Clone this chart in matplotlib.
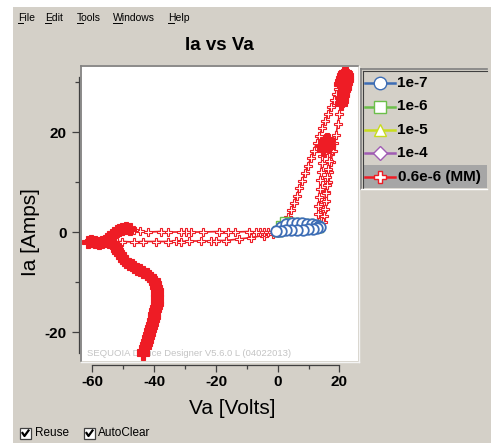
import numpy as np
import matplotlib
matplotlib.use('Agg')
import matplotlib.pyplot as plt
from matplotlib.lines import Line2D
from matplotlib.patches import Rectangle
from matplotlib.ticker import FixedLocator

plt.rcParams['font.family'] = ['Liberation Sans', 'DejaVu Sans']

# ---------------- data ----------------
series_names = ['1e-7', '1e-6', '1e-5', '1e-4', '0.6e-6 (MM)']
series_colors = ['#3d6db5', '#6cbf4a', '#c8dc1e', '#a05cb4', '#ee1c25']
series_markers = ['o', 's', '^', 'D', 'P']

v_1e7 = [0.0, 1.2, 2.8, 4.6, 6.3, 8.0, 9.6, 11.0, 12.3, 13.4, 13.8, 12.8, 11.4, 9.8, 8.1, 6.3, 4.4, 2.6, 0.9, -0.4]
i_1e7 = [0.2, 1.0, 1.7, 1.8, 1.8, 1.8, 1.7, 1.6, 1.5, 1.3, 1.0, 0.8, 0.7, 0.6, 0.5, 0.5, 0.4, 0.4, 0.3, 0.3]

v_1e6 = [0.0, 1.0, 2.2, 4.0, 6.0, 8.0, 10.0, 12.0, 13.2]
i_1e6 = [0.2, 1.3, 2.0, 1.9, 1.8, 1.7, 1.6, 1.4, 1.1]

v_1e5 = [0.0, 1.5, 3.5, 6.0, 8.5, 11.0, 13.0]
i_1e5 = [0.2, 0.9, 1.4, 1.5, 1.4, 1.3, 1.1]

v_1e4 = [0.0, 2.0, 4.5, 7.0, 9.5, 12.0]
i_1e4 = [0.2, 0.8, 1.2, 1.3, 1.2, 1.0]

v_mm = [
    # tail (bottom -> top)
    -43.8, -43.5, -43.1, -42.7, -42.3, -41.9, -41.6, -41.3, -41.0, -40.7, -40.5, -40.2, -40.0, -39.7,
    -39.4, -39.2, -39.0, -39.0, -39.0, -39.2, -39.4, -39.7, -40.2, -40.9, -41.7, -42.5, -43.5, -44.5,
    -45.5, -46.4, -47.3, -48.1, -49.0, -49.7, -50.4, -51.0, -51.6, -52.0, -52.5, -53.0, -53.5,
    # left cluster
    -54.5, -55.6, -56.8, -58.0, -59.2, -60.4, -61.6,
    # lower line to the right
    -60.0, -58.5, -54.5, -52.0, -50.3, -46.4, -43.7, -39.4, -35.6, -32.9, -31.3, -28.6, -24.8, -21.6,
    -20.0, -16.7, -12.5, -8.5, -4.5, -1.5, 0.3, 1.4, 2.5,
    # outer left line up
    3.4, 4.3, 5.2, 6.1, 7.0, 7.9, 8.8, 9.8, 10.7, 11.6, 12.6, 13.5, 14.4, 15.4, 16.3, 17.2, 18.1, 18.9,
    19.6, 20.2,
    # top blob
    20.6, 20.9, 21.2, 21.5, 21.8, 22.1, 22.3, 22.4, 22.3, 22.1, 21.9, 21.7, 21.5, 21.3, 21.1, 20.9, 20.8,
    # outer right line down
    20.5, 20.0, 19.4, 18.9, 18.3, 17.8, 17.3, 16.7, 16.2, 15.7, 15.1, 14.6, 14.0, 13.3,
    # inner left up
    13.0, 13.2, 13.4, 13.6, 13.8, 14.0, 14.2, 14.4, 14.6,
    # inner blob
    14.8, 15.0, 15.3, 15.6, 15.9, 16.2, 16.4, 16.6, 16.7,
    # inner right down
    16.6, 16.5, 16.3, 16.1, 15.9, 15.7, 15.5, 15.3, 15.1, 14.6, 13.5,
    # back along the bottom
    11.5, 9.0, 6.5, 4.0, 1.5,
    # upper line to the left
    -1.6, -3.0, -4.4, -5.8, -7.2, -9.2, -14.0, -16.2, -18.9, -24.3, -28.0, -29.7, -31.3, -35.6, -37.8,
    -42.1, -44.5, -46.5, -48.0, -49.2, -50.3, -51.3, -52.2, -53.0, -53.8, -54.6, -55.4,
]
i_mm = [
    -24.3, -23.7, -23.0, -22.3, -21.7, -21.0, -20.3, -19.6, -19.0, -18.3, -17.6, -16.9, -16.3, -15.6,
    -15.0, -14.3, -13.7, -13.0, -12.3, -11.6, -10.9, -10.2, -9.6, -9.1, -8.7, -8.3, -8.0, -7.6,
    -7.3, -7.0, -6.6, -6.3, -5.9, -5.6, -5.0, -4.4, -3.9, -3.5, -3.0, -2.6, -2.2,
    -2.0, -1.8, -2.0, -2.2, -2.0, -1.8, -2.0,
    -2.2, -1.9, -2.0, -2.0, -1.9, -2.0, -1.9, -1.9, -1.9, -1.8, -1.9, -1.8, -1.8, -1.8,
    -1.7, -1.7, -1.4, -1.1, -0.7, -0.3, 0.0, 0.7, 1.5,
    3.0, 4.4, 5.9, 7.3, 8.8, 10.3, 11.8, 13.3, 14.8, 16.3, 17.8, 19.3, 20.8, 22.2, 23.6, 25.0, 26.3, 27.5,
    28.6, 29.6,
    30.2, 30.8, 31.3, 31.7, 31.9, 31.7, 31.3, 30.8, 30.3, 29.8, 29.3, 28.8, 28.3, 27.8, 27.3, 26.7, 26.2,
    25.5, 23.5, 21.5, 19.5, 17.8, 16.1, 14.1, 12.1, 10.1, 8.1, 6.1, 4.4, 3.0, 2.0,
    3.6, 5.3, 7.0, 8.7, 10.4, 12.1, 13.8, 15.3, 16.4,
    17.1, 17.6, 18.1, 18.5, 18.6, 18.4, 18.0, 17.5, 17.0,
    15.8, 14.3, 12.7, 11.1, 9.5, 7.9, 6.3, 4.7, 3.2, 2.1, 1.6,
    1.2, 0.9, 0.6, 0.4, 0.2,
    0.0, 0.0, 0.1, 0.0, 0.0, 0.1, 0.0, 0.0, 0.1, 0.0, 0.0, 0.1, 0.0, 0.0, 0.1,
    0.0, 0.2, 0.5, 0.7, 0.8, 0.7, 0.5, 0.2, -0.2, -0.6, -1.0, -1.3,
]

x_major = [-60, -40, -20, 0, 20]
x_minor = [-50, -30, -10, 10]
y_major = [-20, 0, 20]
y_minor = [-10, 10, 30]

# ---------------- layout helpers ----------------
W, H = 491, 443
BG = '#d4d0c8'
fig = plt.figure(figsize=(W / 100, H / 100), dpi=100)
fig.patch.set_facecolor('white')


def fx(x):
    return x / W


def fy(y):
    return 1 - y / H


def pline(xs, ys, **kw):
    fig.add_artist(Line2D([fx(x) for x in xs], [fy(y) for y in ys], transform=fig.transFigure, **kw))


def prect(x0, y0, x1, y1, **kw):
    fig.add_artist(Rectangle((fx(x0), fy(y1)), (x1 - x0) / W, (y1 - y0) / H,
                             transform=fig.transFigure, **kw))


# window background
prect(13, 7, W, H, facecolor=BG, edgecolor='none', zorder=0)

# menu bar
menu = [('File', 18), ('Edit', 45), ('Tools', 77), ('Windows', 113), ('Help', 168)]
for label, x in menu:
    fig.text(fx(x), fy(18), label, fontsize=7.5, ha='left', va='center', color='black')
under = [(18, 23), (45, 51), (77, 83), (113, 122), (168, 174)]
for a, b in under:
    pline([a, b], [23, 23], color='black', lw=0.7)

# ---------------- axes ----------------
ax = fig.add_axes([fx(82), fy(361), (358 - 82) / W, (361 - 67) / H])
ax.set_facecolor('white')
ax.set_xlim(-63.4, 26.0)
ax.set_ylim(-25.8, 33.0)

for s in ['top', 'right']:
    ax.spines[s].set_visible(False)
ax.spines['left'].set_position(('outward', 2.2))
ax.spines['bottom'].set_position(('outward', 2.9))
ax.spines['left'].set_bounds(-24.2, 31)
ax.spines['bottom'].set_bounds(-60, 20)
for s in ['left', 'bottom']:
    ax.spines[s].set_color('#404040')
    ax.spines[s].set_linewidth(0.9)

ax.xaxis.set_major_locator(FixedLocator(x_major))
ax.xaxis.set_minor_locator(FixedLocator(x_minor))
ax.yaxis.set_major_locator(FixedLocator(y_major))
ax.yaxis.set_minor_locator(FixedLocator(y_minor))
ax.set_xticklabels([str(v) for v in x_major])
ax.set_yticklabels([str(v) for v in y_major])
ax.tick_params(which='major', direction='out', length=5, width=0.9, color='#404040',
               labelsize=11, pad=2.5)
ax.tick_params(which='minor', direction='out', length=3, width=0.9, color='#404040')
ax.tick_params(axis='y', pad=4)
for lab in ax.get_xticklabels() + ax.get_yticklabels():
    lab.set_fontweight('bold')

ax.set_xlabel('Va [Volts]', fontsize=15)
ax.xaxis.set_label_coords((232 - 82) / 276, (361 - 408) / 294)
ax.xaxis.label.set_va('center')
ax.set_ylabel('Ia [Amps]', fontsize=15)
ax.yaxis.set_label_coords((31 - 82) / 276, (361 - 232) / 294)
ax.yaxis.label.set_va('center')

ax.set_title('Ia vs Va', fontsize=13.5, fontweight='bold', x=(219.5 - 82) / 276,
             y=(361 - 45) / 294, va='center', pad=0)

# plot box border (sunken look)
pline([81, 81], [66, 361], color='#808080', lw=1.2)
pline([81, 358], [66, 66], color='#808080', lw=1.2)
pline([358.5, 358.5], [66, 362], color='#f4f4f4', lw=1.0)
pline([81, 359], [361.5, 361.5], color='#f4f4f4', lw=1.0)

# watermark
ax.text((87 - 82) / 276, (361 - 353) / 294, 'SEQUOIA Device Designer V5.6.0 L (04022013)',
        transform=ax.transAxes, fontsize=6.8, color='#c4c4c4', ha='left', va='center', zorder=1)

# ---------------- data series ----------------
all_series = [(v_1e7, i_1e7), (v_1e6, i_1e6), (v_1e5, i_1e5), (v_1e4, i_1e4), (v_mm, i_mm)]
zords = [6, 5, 4, 3, 2]
msizes = [7.6, 6.6, 6.8, 6.0, 5.6]
mews = [1.3, 1.0, 1.0, 1.0, 0.8]
for (vv, ii), col, mk, z, ms, mw in zip(all_series, series_colors, series_markers, zords, msizes, mews):
    ax.plot(vv, ii, color=col, lw=1.2, marker=mk, ms=ms, mfc='white', mec=col, mew=mw,
            zorder=z, clip_on=False)

# dense parts of the MM series look solid red
pts = ax.transData.transform(np.column_stack([v_mm, i_mm]))
d = np.hypot(*np.diff(pts, axis=0).T)
dprev = np.r_[np.inf, d]
dnext = np.r_[d, np.inf]
dense = np.minimum(dprev, dnext) < 3.9
ax.plot(np.array(v_mm)[dense], np.array(i_mm)[dense], ls='none', marker='P', ms=8.6,
        mfc=series_colors[4], mec=series_colors[4], mew=0.8, zorder=2.5)

# ---------------- legend ----------------
prect(361, 69, 487, 189, facecolor=BG, edgecolor='none', zorder=1)
prect(363, 165, 487, 188, facecolor='#a6a6a6', edgecolor='none', zorder=1.5)
pline([361, 361], [69, 189], color='#808080', lw=1.2, zorder=2)
pline([361, 487], [69, 69], color='#808080', lw=1.2, zorder=2)
pline([362.5, 362.5], [70.5, 188], color='#404040', lw=0.8, zorder=2)
pline([362.5, 487], [70.5, 70.5], color='#404040', lw=0.8, zorder=2)
pline([361, 487], [189.5, 189.5], color='#ffffff', lw=1.0, zorder=2)
rows = [83, 106.5, 130, 153.3, 176.7]
leg_ms = [9.0, 8.0, 8.8, 7.5, 8.5]
for name, col, mk, y, ms in zip(series_names, series_colors, series_markers, rows, leg_ms):
    pline([365, 395], [y, y], color=col, lw=1.8, zorder=3)
    pline([380], [y], color=col, marker=mk, ms=ms, mfc='white', mec=col, mew=1.0, zorder=4)
    fig.text(fx(397.5), fy(y), name, fontsize=11, fontweight='bold', ha='left', va='center',
             color='black', zorder=4)

# ---------------- check boxes ----------------
for x0, label, tx in [(20, 'Reuse', 35), (84, 'AutoClear', 98)]:
    prect(x0, 428, x0 + 11, 439, facecolor='white', edgecolor='#404040', lw=0.9, zorder=2)
    pline([x0 + 2.5, x0 + 4.5, x0 + 8.5], [433, 436, 430.5], color='black', lw=1.6, zorder=3)
    fig.text(fx(tx), fy(433.5), label, fontsize=8.5, ha='left', va='center', color='black')

fig.savefig('out.png', dpi=100, facecolor=fig.get_facecolor())
